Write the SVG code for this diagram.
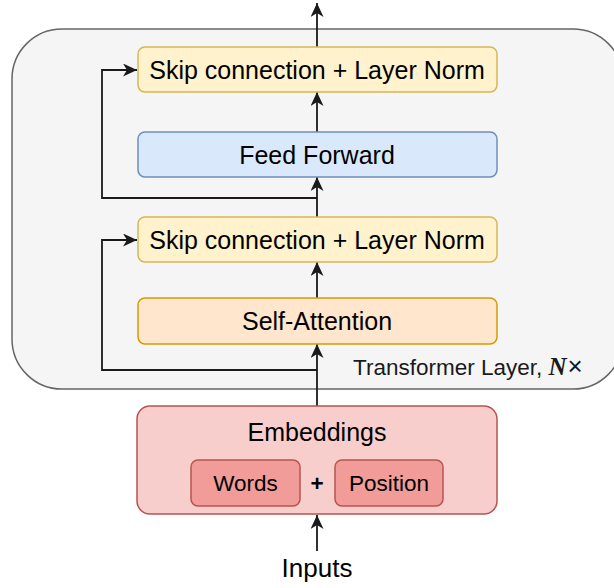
<svg xmlns="http://www.w3.org/2000/svg" width="614" height="588" viewBox="0 0 614 588">
<style>
  text { font-family: "Liberation Sans", Arial, sans-serif; fill: #000; text-anchor: middle; }
  .t25 { font-size: 25px; }
  .t22 { font-size: 22.5px; }
  .box { stroke-width: 1.5; }
  .yellow { fill: #fff2cc; stroke: #d6b656; }
  .blue { fill: #dae8fc; stroke: #6c8ebf; }
  .orange { fill: #ffe6cc; stroke: #d79b00; }
  .red { fill: #f8cecc; stroke: #b85450; }
  .red2 { fill: #f19c99; stroke: #b85450; }
  .conn { fill: none; stroke: #1a1a1a; stroke-width: 1.8; }
</style>
<defs>
  <marker id="arr" markerUnits="userSpaceOnUse" markerWidth="14" markerHeight="13" refX="14" refY="6.5" orient="auto" viewBox="0 0 14 13">
    <path d="M0,0 L14,6.5 L0,13 L4,6.5 z" fill="#1a1a1a"/>
  </marker>
</defs>

<g id="transformer-layer">
  <rect x="12" y="29" width="611" height="360" rx="50" ry="50" fill="#f5f5f5" stroke="#666666" stroke-width="1.5"/>
  <text x="353" y="375" style="text-anchor:start;font-size:22.5px;fill:#1a1a1a">Transformer Layer, <tspan style="font-family:'Liberation Serif','Times New Roman',serif;font-style:italic;font-weight:bold;font-size:25px">N</tspan><tspan style="font-size:26px" dx="1">×</tspan></text>
</g>

<g id="connectors">
  <line class="conn" x1="317" y1="47" x2="317" y2="3" marker-end="url(#arr)"/>
  <line class="conn" x1="317" y1="132" x2="317" y2="92" marker-end="url(#arr)"/>
  <line class="conn" x1="317" y1="217" x2="317" y2="177" marker-end="url(#arr)"/>
  <polyline class="conn" points="317,198 102,198 102,70 137,70" marker-end="url(#arr)"/>
  <line class="conn" x1="317" y1="298" x2="317" y2="262" marker-end="url(#arr)"/>
  <line class="conn" x1="317" y1="406" x2="317" y2="344" marker-end="url(#arr)"/>
  <polyline class="conn" points="317,370 102,370 102,240 137,240" marker-end="url(#arr)"/>
  <line class="conn" x1="317" y1="551" x2="317" y2="515" marker-end="url(#arr)"/>
</g>

<g id="skip-norm-2">
  <rect class="box yellow" x="138" y="47" width="359" height="45" rx="7"/>
  <text class="t25" x="317" y="78.5">Skip connection + Layer Norm</text>
</g>

<g id="feed-forward">
  <rect class="box blue" x="138" y="132" width="359" height="45" rx="7"/>
  <text class="t25" x="317" y="163.5">Feed Forward</text>
</g>

<g id="skip-norm-1">
  <rect class="box yellow" x="138" y="217" width="359" height="45" rx="7"/>
  <text class="t25" x="317" y="248.5">Skip connection + Layer Norm</text>
</g>

<g id="self-attention">
  <rect class="box orange" x="138" y="298" width="359" height="46" rx="7"/>
  <text class="t25" x="317" y="330">Self-Attention</text>
</g>

<g id="embeddings">
  <rect class="box red" x="137" y="406" width="360" height="108" rx="13"/>
  <text class="t25" x="317" y="441">Embeddings</text>
  <g id="words">
    <rect class="box red2" x="191" y="460" width="109" height="46" rx="7"/>
    <text class="t22" x="245.5" y="491">Words</text>
  </g>
  <text class="t22" x="317" y="491" style="font-weight:bold">+</text>
  <g id="position">
    <rect class="box red2" x="335" y="460" width="108" height="46" rx="7"/>
    <text class="t22" x="389" y="491">Position</text>
  </g>
</g>

<g id="inputs">
  <text x="317" y="577" style="font-size:26px">Inputs</text>
</g>
</svg>
